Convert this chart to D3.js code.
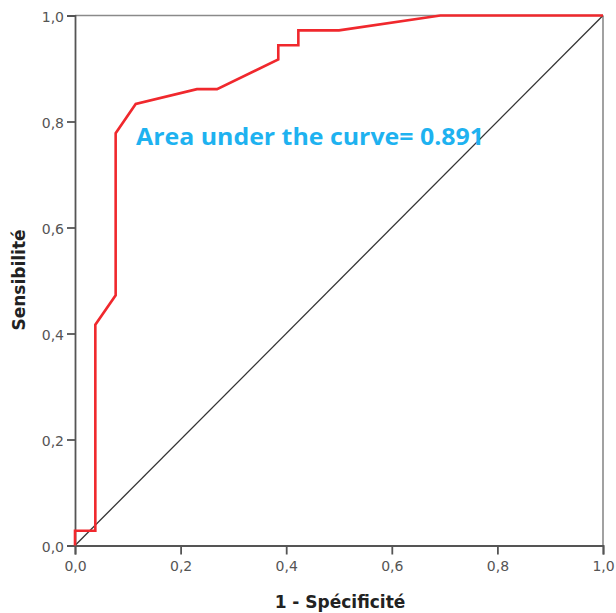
<!DOCTYPE html>
<html><head><meta charset="utf-8">
<script src="https://cdn.jsdelivr.net/npm/d3@7"></script>
<style>body{margin:0;background:#fff}svg{display:block}</style>
</head><body>
<svg id="c" width="616" height="613"></svg>
<script>
const fpr = [0, 0, 0.0385, 0.0385, 0.077, 0.077, 0.115, 0.231, 0.269, 0.385, 0.385, 0.423, 0.423, 0.5, 0.692, 1];
const sens = [0, 0.0278, 0.0278, 0.4167, 0.472, 0.778, 0.833, 0.861, 0.861, 0.917, 0.944, 0.944, 0.972, 0.972, 1, 1];
const ticks = [0, 0.2, 0.4, 0.6, 0.8, 1.0];
const tickLabels = ["0,0", "0,2", "0,4", "0,6", "0,8", "1,0"];
const xTitle = "1 - Spécificité";
const yTitle = "Sensibilité";
const aucText = "Area under the curve= 0.891";

const svg = d3.select("#c");
const x = d3.scaleLinear().domain([0, 1]).range([75, 603]);
const y = d3.scaleLinear().domain([0, 1]).range([545.5, 15.5]);

// frame top & right
svg.append("line").attr("x1", x(0)).attr("x2", x(1)).attr("y1", y(1)).attr("y2", y(1))
  .attr("stroke", "#8a8a8a").attr("stroke-width", 1.6);
svg.append("line").attr("x1", x(1)).attr("x2", x(1)).attr("y1", y(0)).attr("y2", y(1))
  .attr("stroke", "#8a8a8a").attr("stroke-width", 1.6);

// diagonal
svg.append("line").attr("x1", x(0)).attr("y1", y(0)).attr("x2", x(1)).attr("y2", y(1))
  .attr("stroke", "#333").attr("stroke-width", 1.3);

// axes
const xAxis = d3.axisBottom(x).tickValues(ticks).tickFormat((d, i) => tickLabels[i]).tickSize(9).tickPadding(7);
const yAxis = d3.axisLeft(y).tickValues(ticks).tickFormat((d, i) => tickLabels[i]).tickSize(8).tickPadding(3);
const gx = svg.append("g").attr("transform", `translate(0,${y(0)})`).call(xAxis);
const gy = svg.append("g").attr("transform", `translate(${x(0)},0)`).call(yAxis);
[gx, gy].forEach(g => {
  g.select(".domain").attr("stroke", "#555").attr("stroke-width", 1.8);
  g.selectAll(".tick line").attr("stroke", "#555").attr("stroke-width", 1.8);
  g.selectAll(".tick text").attr("fill", "#555").attr("font-family", "DejaVu Sans, sans-serif").attr("font-size", 14);
});
gy.selectAll(".tick text").attr("dy", "0.45em");

// ROC curve
const pts = fpr.map((f, i) => [f, sens[i]]);
svg.append("path").datum(pts)
  .attr("d", d3.line().x(d => x(d[0])).y(d => y(d[1])))
  .attr("fill", "none").attr("stroke", "#f0282d").attr("stroke-width", 2.6).attr("stroke-linejoin", "miter");

// titles
svg.append("text").attr("x", 340).attr("y", 608).attr("text-anchor", "middle")
  .attr("font-family", "DejaVu Sans, sans-serif").attr("font-weight", "bold").attr("font-size", 17)
  .attr("fill", "#222").text(xTitle);
svg.append("text").attr("transform", "translate(25,280) rotate(-90)").attr("text-anchor", "middle")
  .attr("font-family", "DejaVu Sans, sans-serif").attr("font-weight", "bold").attr("font-size", 17)
  .attr("fill", "#222").text(yTitle);

// AUC annotation
svg.append("text").attr("x", 136).attr("y", 145)
  .attr("font-family", "Open Sans, sans-serif").attr("font-weight", "bold").attr("font-size", 24)
  .attr("textLength", 348).attr("lengthAdjust", "spacingAndGlyphs")
  .attr("fill", "#1eb2f0").text(aucText);
</script>
</body></html>
